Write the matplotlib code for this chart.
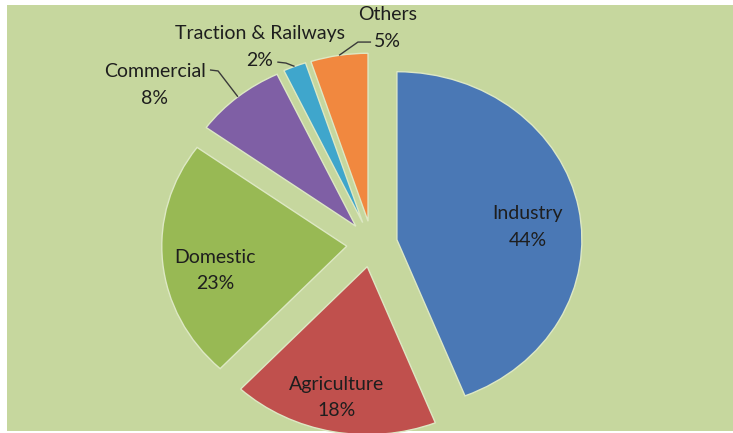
import numpy as np
import matplotlib
matplotlib.use("Agg")
import matplotlib.pyplot as plt

plt.rcParams['font.family'] = ['Lato', 'DejaVu Sans']

# electricity consumption by sector, share in percent
sectors = ['Industry', 'Agriculture', 'Domestic', 'Commercial',
           'Traction & Railways', 'Others']
shares = [44, 18, 23, 8, 2, 5]
colors = ['#4a78b5', '#c0504d', '#98b954', '#7f5fa5', '#3fa6cc', '#f1883f']

W, H = 733, 433
fig = plt.figure(figsize=(W / 100, H / 100), dpi=100)
fig.patch.set_facecolor('white')

# plot area in pixels (left, top, right, bottom), pie centre and radii
left, top, right, bottom = 7, 5, 733, 431
cx, cy, rx, ry = 372, 244, 185, 168

ax = fig.add_axes([left / W, 1 - bottom / H, (right - left) / W, (bottom - top) / H])

wedges, _ = ax.pie(shares, colors=colors, startangle=90, counterclock=False,
                   explode=[0.137] * len(shares), radius=1,
                   wedgeprops=dict(edgecolor='#dde8c4', linewidth=1.0))

# pie() switches the frame off, bring the green plot area back
ax.set_frame_on(True)
ax.set_facecolor('#c6d79e')
for s in ax.spines.values():
    s.set_visible(False)
ax.set_aspect('auto')
ax.set_xlim((left - cx) / rx, (right - cx) / rx)
ax.set_ylim((cy - bottom) / ry, (cy - top) / ry)
ax.set_xticks([])
ax.set_yticks([])


def arc_point(w):
    a = np.deg2rad((w.theta1 + w.theta2) / 2)
    return w.center[0] + w.r * np.cos(a), w.center[1] + w.r * np.sin(a)


txt = dict(fontsize=14, color='#1e1e1e', ha='center', va='center', linespacing=1.7)

# label centres, and for the small slices the leader line towards the arc
label_pos = [(0.843, 0.101), (-0.189, -0.914), (-0.849, -0.158),
             (-1.173, 0.945), (-0.605, 1.172), (0.086, 1.288)]
leaders = {
    3: [(-0.876, 1.036), (-0.832, 1.030)],
    4: [(-0.512, 1.083), (-0.465, 1.077)],
    5: [(-0.005, 1.202), (-0.076, 1.202)],
}

for i, w in enumerate(wedges):
    ax.text(*label_pos[i], f'{sectors[i]}\n{shares[i]}%', **txt)
    if i in leaders:
        xs, ys = zip(*(leaders[i] + [arc_point(w)]))
        ax.plot(xs, ys, color='#3a3a3a', lw=1.0, solid_capstyle='butt')

fig.savefig('out.png', dpi=100)
